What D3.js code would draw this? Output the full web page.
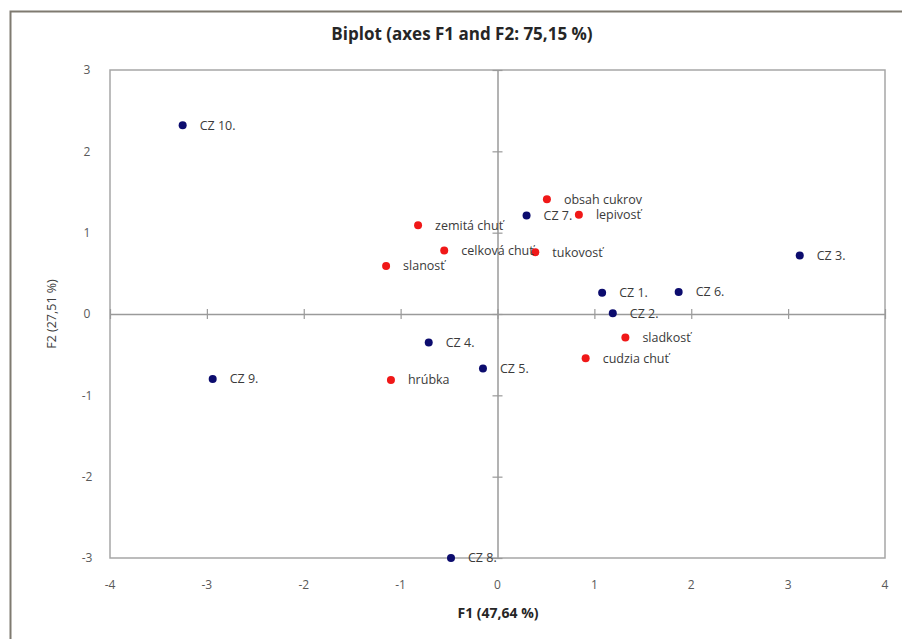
<!DOCTYPE html>
<html lang="sk">
<head>
  <meta charset="UTF-8">
  <title>Biplot (axes F1 and F2: 75,15 %)</title>
  <script src="https://d3js.org/d3.v7.min.js"></script>
  <style>
    body { margin: 0; background: #fff; }
    svg { display: block; }
    text { font-family: "Open Sans", Lato, sans-serif; }
    .tick-label { font-size: 12px; fill: #595959; }
    .pt-label { font-size: 12.5px; fill: #3a3a3a; }
  </style>
</head>
<body>
  <svg></svg>
  <script>
    // pozorovania (vzorky)
    const obsNames = ['CZ 1.', 'CZ 2.', 'CZ 3.', 'CZ 4.', 'CZ 5.', 'CZ 6.', 'CZ 7.', 'CZ 8.', 'CZ 9.', 'CZ 10.'];
    const obsF1 = [1.08, 1.19, 3.12, -0.71, -0.15, 1.87, 0.30, -0.48, -2.94, -3.25];
    const obsF2 = [0.26, 0.01, 0.72, -0.35, -0.67, 0.27, 1.21, -3.00, -0.80, 2.32];

    // premenne (znaky)
    const varNames = ['obsah cukrov', 'lepivosť', 'zemitá chuť', 'celková chuť', 'tukovosť', 'slanosť', 'sladkosť', 'cudzia chuť', 'hrúbka'];
    const varF1 = [0.51, 0.84, -0.82, -0.55, 0.39, -1.15, 1.32, 0.91, -1.10];
    const varF2 = [1.41, 1.22, 1.09, 0.78, 0.76, 0.59, -0.29, -0.545, -0.81];

    const xTicks = [-4, -3, -2, -1, 0, 1, 2, 3, 4];
    const yTicks = [-3, -2, -1, 0, 1, 2, 3];

    const W = 902, H = 639;
    const plot = {left: 110, right: 885, top: 70, bottom: 558};

    const svg = d3.select('svg').attr('width', W).attr('height', H);

    // vonkajsi ramik (vidiet len horny a lavy okraj)
    svg.append('rect')
      .attr('x', 10.5).attr('y', 11.5)
      .attr('width', W + 20).attr('height', H + 20)
      .attr('fill', 'none')
      .attr('stroke', '#7f7a70')
      .attr('stroke-width', 2);

    const x = d3.scaleLinear().domain([-4, 4]).range([plot.left, plot.right]);
    const y = d3.scaleLinear().domain([-3, 3]).range([plot.bottom, plot.top]);

    // ramik grafu
    svg.append('rect')
      .attr('x', plot.left).attr('y', plot.top)
      .attr('width', plot.right - plot.left)
      .attr('height', plot.bottom - plot.top)
      .attr('fill', 'none')
      .attr('stroke', '#a6a6a6')
      .attr('stroke-width', 1.5);

    // osi cez nulu
    const axisColor = '#9a9a9a';
    const xAxis = svg.append('g').attr('transform', `translate(0,${y(0)})`)
      .call(d3.axisBottom(x).tickValues(xTicks).tickSize(0).tickFormat(''));
    xAxis.select('.domain').attr('stroke', axisColor).attr('stroke-width', 1.5);
    xAxis.selectAll('.tick').append('line')
      .attr('y1', -5).attr('y2', 5)
      .attr('stroke', axisColor).attr('stroke-width', 1.2);

    const yAxis = svg.append('g').attr('transform', `translate(${x(0)},0)`)
      .call(d3.axisLeft(y).tickValues(yTicks).tickSize(0).tickFormat(''));
    yAxis.select('.domain').attr('stroke', axisColor).attr('stroke-width', 1.5);
    yAxis.selectAll('.tick').append('line')
      .attr('x1', -5).attr('x2', 5)
      .attr('stroke', axisColor).attr('stroke-width', 1.2);

    // popisky osi
    svg.append('g').selectAll('text')
      .data(xTicks).enter().append('text')
      .attr('class', 'tick-label')
      .attr('x', d => x(d))
      .attr('y', plot.bottom + 31)
      .attr('text-anchor', 'middle')
      .text(d => d);

    svg.append('g').selectAll('text')
      .data(yTicks).enter().append('text')
      .attr('class', 'tick-label')
      .attr('x', plot.left - 23)
      .attr('y', d => y(d))
      .attr('dy', '0.35em')
      .attr('text-anchor', 'middle')
      .text(d => d);

    // body
    function drawPoints(names, f1, f2, color) {
      svg.append('g').selectAll('circle')
        .data(names).enter().append('circle')
        .attr('cx', (d, i) => x(f1[i]))
        .attr('cy', (d, i) => y(f2[i]))
        .attr('r', 4)
        .attr('fill', color);
    }
    function drawLabels(names, f1, f2) {
      svg.append('g').selectAll('text')
        .data(names).enter().append('text')
        .attr('class', 'pt-label')
        .attr('x', (d, i) => x(f1[i]) + 17)
        .attr('y', (d, i) => y(f2[i]))
        .attr('dy', '0.35em')
        .text(d => d);
    }

    drawPoints(obsNames, obsF1, obsF2, '#0c0c6e');
    drawLabels(obsNames, obsF1, obsF2);
    drawPoints(varNames, varF1, varF2, '#f01818');
    drawLabels(varNames, varF1, varF2);

    // nadpisy
    svg.append('text')
      .attr('x', 462).attr('y', 40)
      .attr('text-anchor', 'middle')
      .attr('font-size', 17).attr('font-weight', 'bold')
      .attr('fill', '#262626')
      .text('Biplot (axes F1 and F2: 75,15 %)');

    svg.append('text')
      .attr('x', 498).attr('y', 618)
      .attr('text-anchor', 'middle')
      .attr('font-size', 14).attr('font-weight', 'bold')
      .attr('fill', '#262626')
      .text('F1 (47,64 %)');

    svg.append('text')
      .attr('transform', `translate(56,${y(0)}) rotate(-90)`)
      .attr('text-anchor', 'middle')
      .attr('font-size', 12.5)
      .attr('fill', '#404040')
      .text('F2 (27,51 %)');
  </script>
</body>
</html>
